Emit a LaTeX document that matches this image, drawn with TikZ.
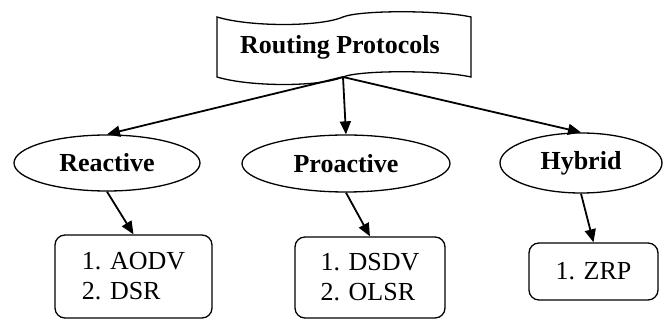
\documentclass[tikz,border=0pt]{standalone}
\usepackage{fontspec}
\setmainfont{Liberation Serif}
\usetikzlibrary{shapes.geometric,arrows.meta}
\begin{document}
\begin{tikzpicture}[x=1pt,y=-1pt,
  every node/.style={font=\fontsize{26}{30}\selectfont},
  cat/.style={draw,ellipse,line width=1.3pt,inner sep=0pt,font=\fontsize{26}{30}\selectfont\bfseries},
  listbox/.style={draw,rectangle,rounded corners=10pt,line width=1.3pt,inner sep=0pt,align=left},
  conn/.style={line width=1.8pt,-{Triangle[length=13pt,width=11pt]}}
]
\useasboundingbox (0,0) rectangle (665,320);
% banner
\draw[line width=1.3pt] (217,17) .. controls (250,27) and (320,27) .. (343,17)
  .. controls (360,10) and (440,10) .. (471,17) -- (471,77)
  .. controls (440,70) and (360,70) .. (343,77)
  .. controls (320,87) and (250,87) .. (217,77) -- cycle;
\node[font=\fontsize{26}{30}\selectfont\bfseries] (root) at (340,47) {Routing Protocols};
\coordinate (src) at (343,77);
% categories
\node[cat,minimum width=186pt,minimum height=56pt] (reactive) at (107,163) {Reactive};
\node[cat,minimum width=208pt,minimum height=57pt] (proactive) at (346,163.5) {Proactive};
\node[cat,minimum width=162pt,minimum height=60pt] (hybrid) at (581,163) {Hybrid};
% lists
\node[listbox,minimum width=157pt,minimum height=83pt] (aodv) at (133.5,276.5) {1. AODV\\2. DSR};
\node[listbox,minimum width=150pt,minimum height=81pt] (dsdv) at (370,277.5) {1. DSDV\\2. OLSR};
\node[listbox,minimum width=129pt,minimum height=57pt] (zrp) at (593.5,271.5) {1. ZRP};
% connectors
\draw[conn] (src) -- (reactive.north);
\draw[conn] (src) -- (proactive.north);
\draw[conn] (src) -- (hybrid.north);
\draw[conn] (reactive.south) -- (aodv.north);
\draw[conn] (proactive.south) -- (dsdv.north);
\draw[conn] (hybrid.south) -- (zrp.north);
\end{tikzpicture}
\end{document}
